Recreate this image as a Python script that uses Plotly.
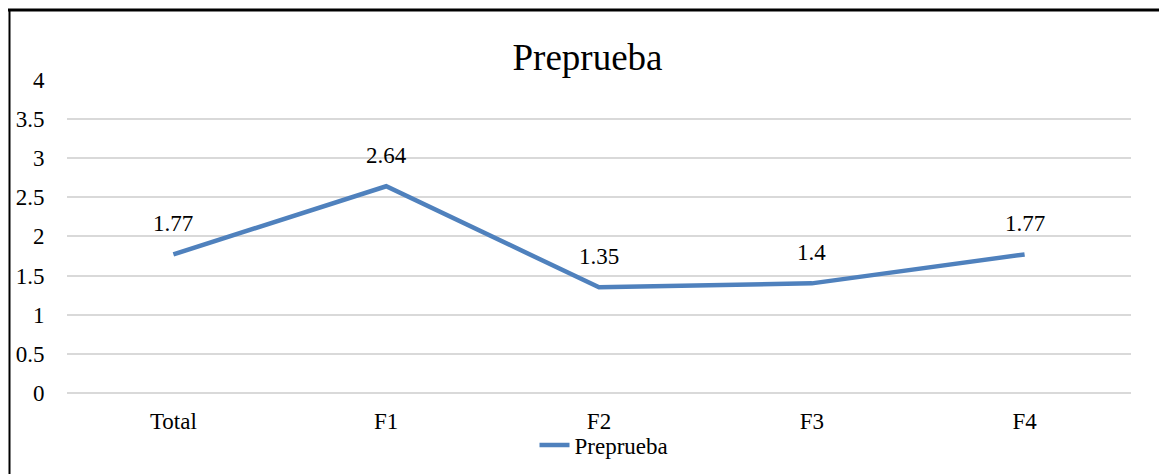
import plotly.graph_objects as go

categories = ["Total", "F1", "F2", "F3", "F4"]
values = [1.77, 2.64, 1.35, 1.4, 1.77]
series_name = "Preprueba"
title_text = "Preprueba"
y_ticks = [0, 0.5, 1, 1.5, 2, 2.5, 3, 3.5, 4]

# page body margin offsets the figure by 8px
OFF = 8
W, H = 1167 - OFF, 474 - OFF
L, R, T, B = 67 - OFF, 36, 79 - OFF, 81
pw, ph = W - L - R, H - T - B

def fx(sx):
    return (sx - OFF - L) / pw

def fy(sy):
    return (H - B - (sy - OFF)) / ph

FONT = "Liberation Serif, Times New Roman, serif"
BLUE = "#4F81BD"
FS = 23

fig = go.Figure()
fig.add_trace(go.Scatter(
    x=categories, y=values, mode="lines", name=series_name,
    line=dict(color=BLUE, width=4.5),
))

for c, v in zip(categories, values):
    fig.add_annotation(x=c, y=v, text=f"{v:g}", showarrow=False,
                       yshift=31, font=dict(family=FONT, size=FS, color="#000"))

shapes = [
    dict(type="line", xref="paper", yref="paper", x0=fx(OFF - 2), x1=fx(1167 + 5),
         y0=fy(10), y1=fy(10), line=dict(color="black", width=3)),
    dict(type="line", xref="paper", yref="paper", x0=fx(9.5), x1=fx(9.5),
         y0=fy(10), y1=fy(480), line=dict(color="black", width=2)),
]

fig.update_layout(
    width=W, height=H,
    margin=dict(l=L, r=R, t=T, b=B, autoexpand=False),
    paper_bgcolor="white", plot_bgcolor="white",
    title=dict(text=title_text, x=0.5, xanchor="center", y=1 - (57 - OFF) / H, yanchor="middle",
               font=dict(family=FONT, size=37, color="#000")),
    font=dict(family=FONT, size=FS, color="#000"),
    showlegend=True,
    legend=dict(orientation="h", x=fx(604), xanchor="center", y=fy(445), yanchor="middle",
                font=dict(family=FONT, size=FS, color="#000"),
                bgcolor="rgba(0,0,0,0)"),
    xaxis=dict(range=[-0.5, 4.5], showgrid=False, zeroline=False, showline=False,
               automargin=False,
               ticks="outside", ticklen=7, tickcolor="rgba(0,0,0,0)",
               tickfont=dict(family=FONT, size=FS, color="#000")),
    yaxis=dict(range=[0, 4.01], tickvals=y_ticks, ticktext=[f"{t:g}" for t in y_ticks],
               automargin=False,
               showgrid=True, gridcolor="#D9D9D9", gridwidth=1.5,
               zeroline=True, zerolinecolor="#D9D9D9", zerolinewidth=1.5, showline=False,
               ticks="outside", ticklen=17, tickcolor="rgba(0,0,0,0)",
               tickfont=dict(family=FONT, size=FS, color="#000")),
    shapes=shapes,
)

fig.write_html("out.html")
